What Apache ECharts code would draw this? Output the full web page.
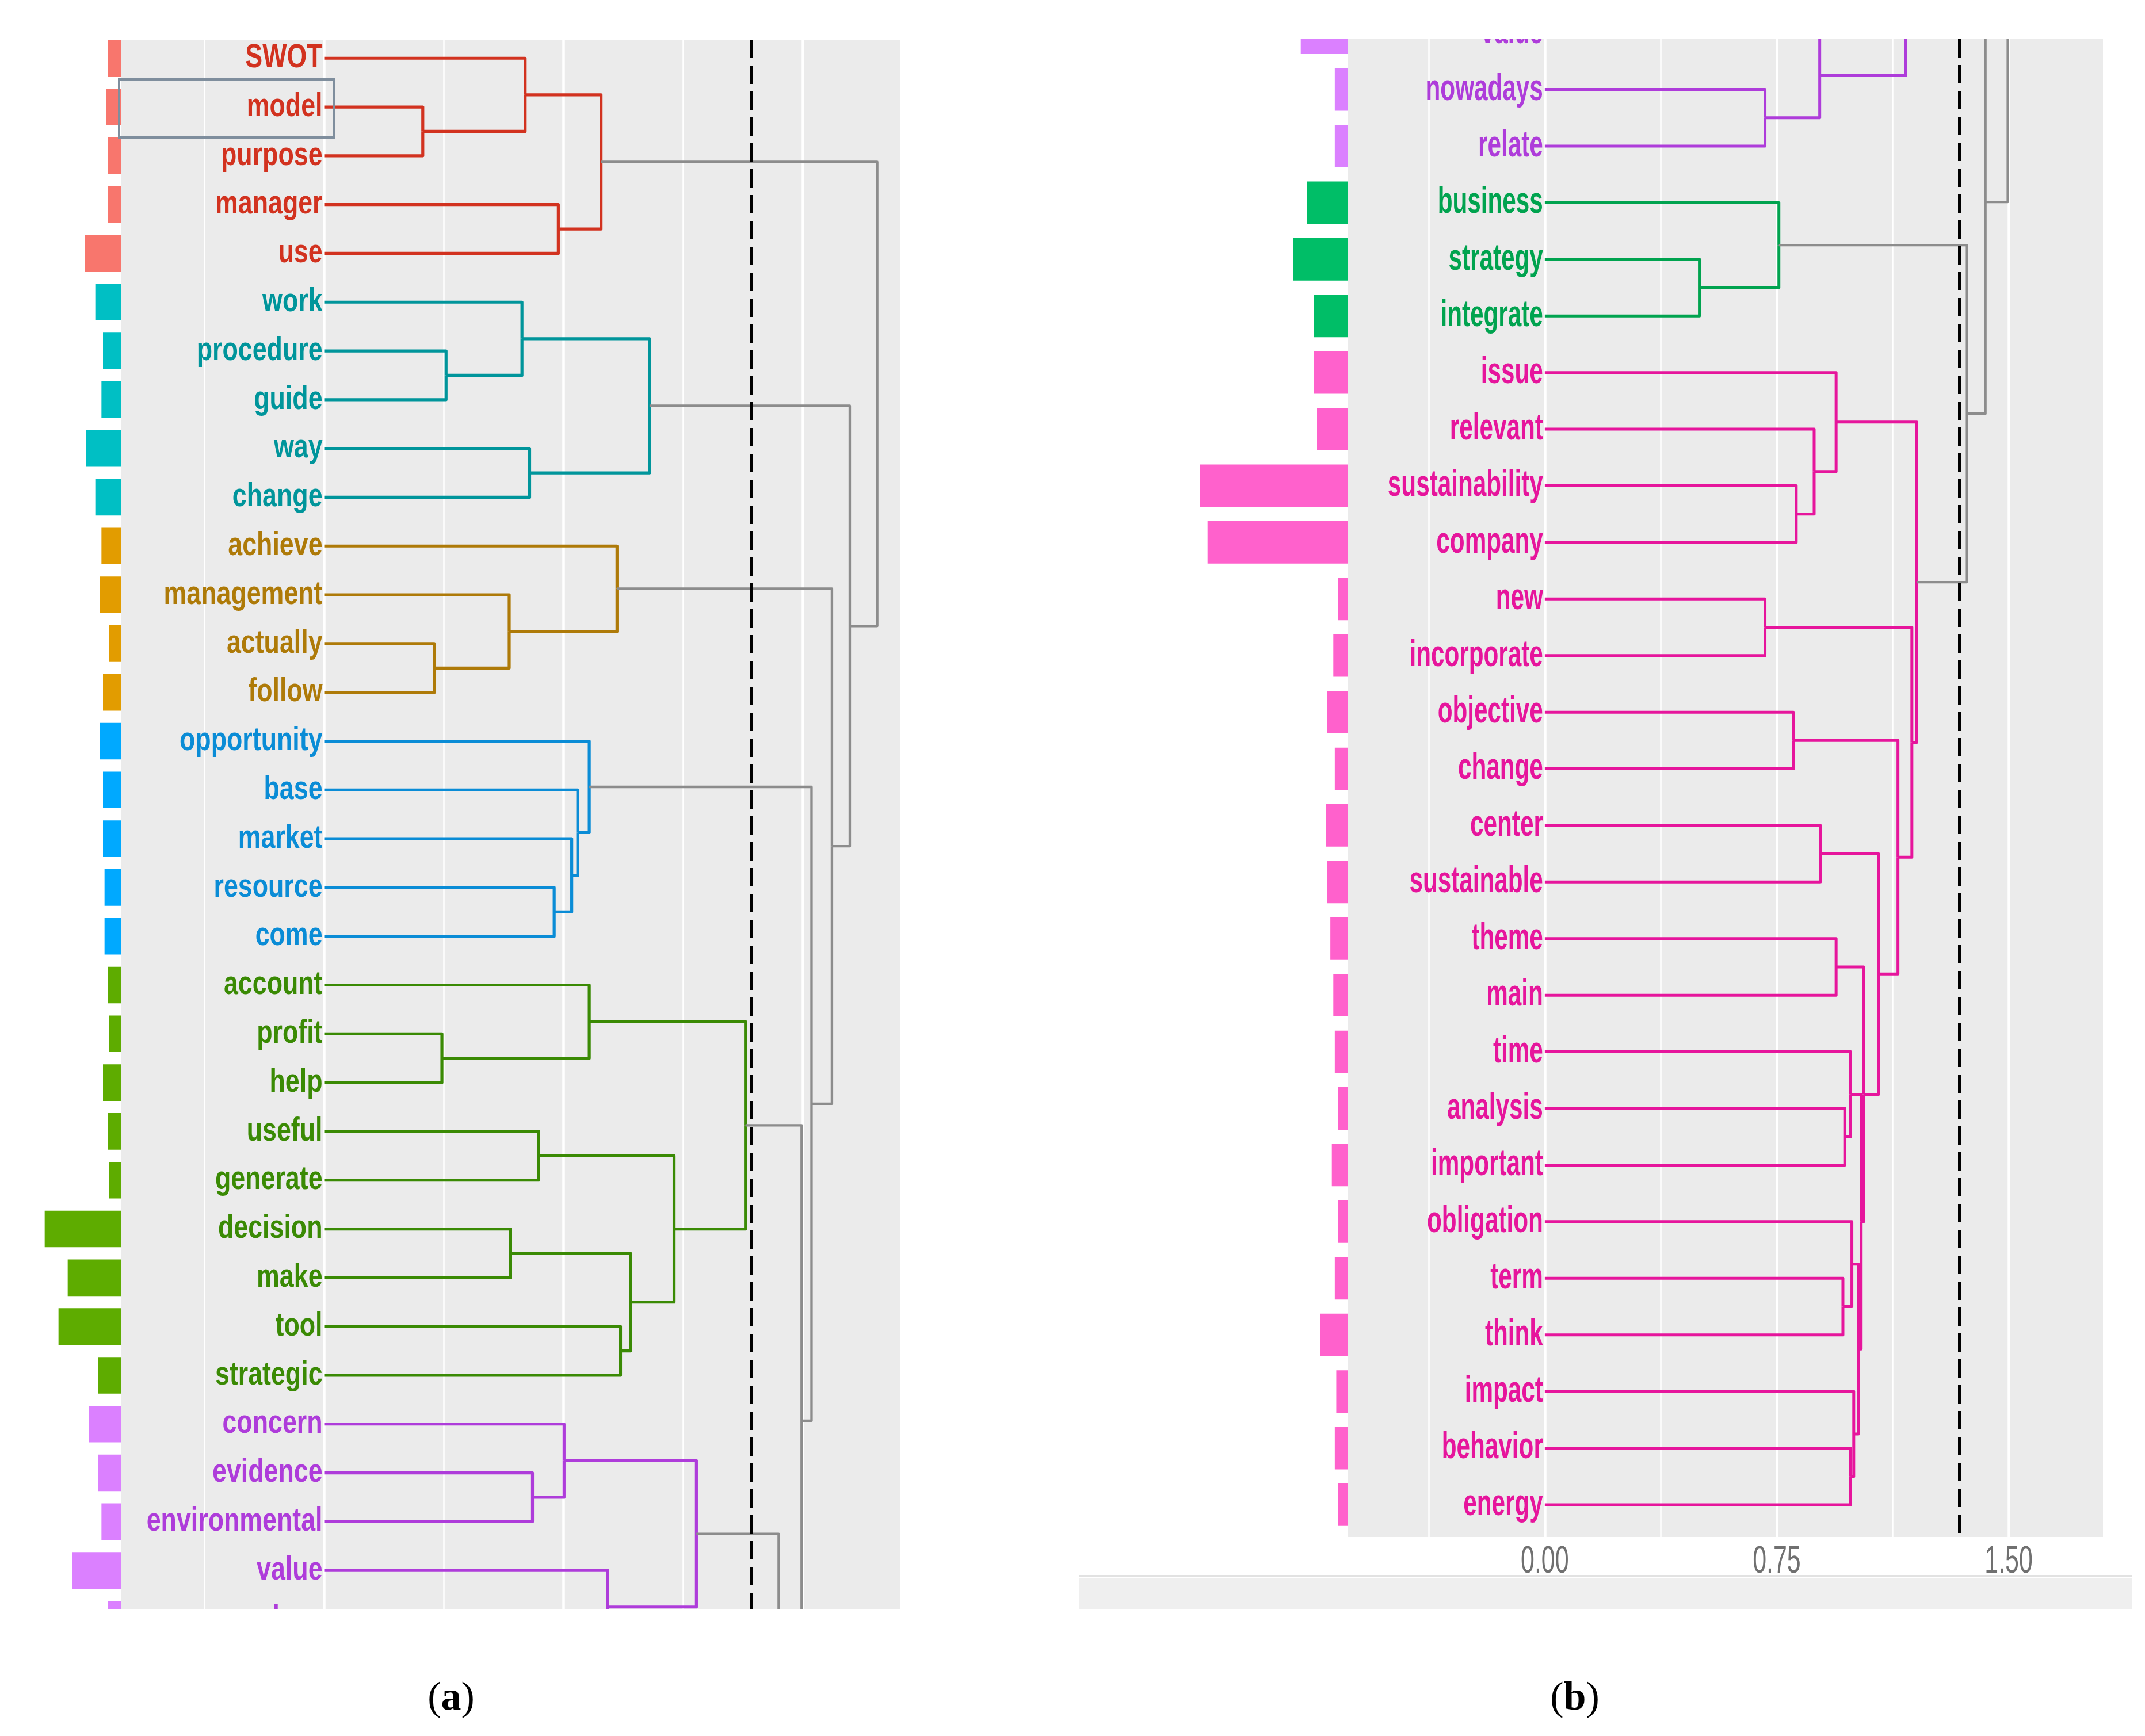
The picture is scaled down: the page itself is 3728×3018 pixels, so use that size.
<!DOCTYPE html>
<html><head><meta charset="utf-8">
<script src="https://cdn.jsdelivr.net/npm/echarts@6/dist/echarts.min.js"></script>
<style>html,body{margin:0;padding:0;background:#fff}#c{width:3728px;height:3018px}</style>
</head><body><div id="c"></div>
<script>
// ---------------- data ----------------
const words = ['SWOT','model','purpose','manager','use','work','procedure','guide','way','change',
  'achieve','management','actually','follow','opportunity','base','market','resource','come','account',
  'profit','help','useful','generate','decision','make','tool','strategic','concern','evidence',
  'environmental','value','nowadays','relate','business','strategy','integrate','issue','relevant','sustainability',
  'company','new','incorporate','objective','change','center','sustainable','theme','main','time',
  'analysis','important','obligation','term','think','impact','behavior','energy'];
const frequency = [9,10,9,9,24,17,12,13,23,17,
  13,14,8,12,14,12,12,11,11,9,
  8,12,9,8,50,35,41,15,21,15,
  13,32,9,9,28,37,23,23,21,100,
  95,7,10,14,9,15,14,12,10,9,
  7,11,7,9,19,8,9,7];
// hclust-style merge table: negative = leaf (1-based), positive = earlier merge (1-based)
const mergeLeft  = [-2,-1,-4,2,-7,-6,-9,6,-13,-12,-11,-18,-17,-16,-15,-21,-20,-23,-25,-27,19,18,17,-30,-29,-33,-32,25,-36,-35,
  -40,-39,-38,-42,-44,-46,-48,-51,-50,-54,-53,-57,-56,41,39,37,36,35,34,33,30,28,23,15,11,8,4];
const mergeRight = [-3,1,-5,3,-8,5,-10,7,-14,9,10,-19,12,13,14,-22,16,-24,-26,-28,20,21,22,-31,24,-34,26,27,-37,29,
  -41,31,32,-43,-45,-47,-49,-52,38,-55,40,-58,42,43,44,45,46,47,48,49,50,51,52,53,54,55,56];
const mergeHeight = [0.309,0.630,0.734,0.868,0.382,0.620,0.644,1.020,0.345,0.580,0.918,0.721,0.776,0.795,0.831,0.369,0.831,0.672,0.584,0.929,0.960,1.097,1.321,0.653,0.752,0.712,0.889,1.167,0.500,0.757,
  0.813,0.871,0.942,0.712,0.804,0.891,0.942,0.970,0.989,0.964,0.993,0.989,0.999,1.014,1.023,1.031,1.079,1.142,1.187,1.203,1.365,1.425,1.497,1.528,1.592,1.648,1.734];
const CUT_HEIGHT = 1.34;
const branchColors = ['#D2321F','#00959B','#AE7A08','#0A8CD6','#3A8A04','#AE3CDA','#00A34F','#E6159C'];
const barColors    = ['#F8766D','#00BFC4','#E29C00','#00A9FF','#5EAC00','#DB80FF','#00BE67','#FF61CC'];
const GRAY = '#8C8C8C';
const majorTicks = [0, 0.75, 1.5];
const minorTicks = [-0.375, 0.375, 1.125];
const tickLabels = ['0.00', '0.75', '1.50'];
const X_MIN = -0.636, X_MAX = 1.805;

// ---------------- tree building ----------------
const nodes = [];
function ref(r) { return r < 0 ? { h: 0, y: -r - 1, leaf: -r - 1 } : nodes[r - 1]; }
for (let k = 0; k < mergeHeight.length; k++) {
  const a = ref(mergeLeft[k]), b = ref(mergeRight[k]);
  nodes.push({ h: mergeHeight[k], y: (a.y + b.y) / 2, a, b, cluster: -1 });
}
const root = nodes[nodes.length - 1];
const leafCluster = new Array(words.length).fill(0);
let clusterCounter = 0;
function paint(node, cid) {
  node.cluster = cid;
  if (node.leaf !== undefined) { leafCluster[node.leaf] = cid; return; }
  paint(node.a, cid); paint(node.b, cid);
}
function findClusters(node) {
  if (node.leaf !== undefined || node.h < CUT_HEIGHT) { paint(node, clusterCounter++); return; }
  findClusters(node.a); findClusters(node.b);
}
findClusters(root);
const segments = [];
nodes.forEach(p => {
  [p.a, p.b].forEach(c => {
    segments.push([c.h, c.y, p.h, c.y, p.h, p.y, p.cluster]);
  });
});
const leafData = words.map((w, i) => [0, i, leafCluster[i]]);
const barData = frequency.map((f, i) => [f, i, leafCluster[i]]);
const tickData = majorTicks.map((v, i) => [v, i]);

// ---------------- chart ----------------
const FONT = '"Liberation Sans",Arial,"DejaVu Sans",sans-serif';
const panels = [
  { left: 211, top: 69, width: 1353, height: 2729, yMin: -0.38, yMax: 31.8, barW: 200, barMax: 75, fs: 57, sx: 0.785, lw: 5.2, labels: false },
  { left: 2343, top: 68, width: 1312, height: 2604, yMin: 31.11, yMax: 57.57, barW: 270, barMax: 105, fs: 65, sx: 0.65, lw: 5.0, labels: true }
];
const grid = [], xAxis = [], yAxis = [], series = [];
panels.forEach((P, pi) => {
  const gD = grid.length;
  grid.push({ left: P.left, top: P.top, width: P.width, height: P.height, show: true, backgroundColor: '#EBEBEB', borderWidth: 0 });
  grid.push({ left: P.left - P.barW, top: P.top, width: P.barW, height: P.height, show: false });
  const xMaj = xAxis.length;
  xAxis.push({ type: 'value', gridIndex: gD, min: X_MIN, max: X_MAX, position: 'bottom',
    axisLine: { show: false }, axisTick: { show: false, customValues: majorTicks },
    axisLabel: { show: false, customValues: majorTicks },
    splitLine: { show: true, lineStyle: { color: '#FFFFFF', width: 4.5 } } });
  xAxis.push({ type: 'value', gridIndex: gD, min: X_MIN, max: X_MAX, position: 'top',
    axisLine: { show: false }, axisTick: { show: false, customValues: minorTicks }, axisLabel: { show: false },
    splitLine: { show: true, lineStyle: { color: '#FFFFFF', width: 2.5 } } });
  const xBar = xAxis.length;
  xAxis.push({ type: 'value', gridIndex: gD + 1, min: 0, max: P.barMax, inverse: true, show: false });
  const yD = yAxis.length;
  yAxis.push({ type: 'value', gridIndex: gD, min: P.yMin, max: P.yMax, inverse: true, show: false });
  yAxis.push({ type: 'value', gridIndex: gD + 1, min: P.yMin, max: P.yMax, inverse: true, show: false });

  series.push({
    type: 'custom', xAxisIndex: xMaj, yAxisIndex: yD, clip: true, silent: true, z: 3,
    data: segments,
    renderItem: (params, api) => {
      const pts = [[api.value(0), api.value(1)], [api.value(2), api.value(3)], [api.value(4), api.value(5)]].map(p => api.coord(p));
      const c = api.value(6);
      return { type: 'polyline', shape: { points: pts },
        style: { stroke: c >= 0 ? branchColors[c] : GRAY, lineWidth: c >= 0 ? P.lw : P.lw - 0.9, fill: null, lineJoin: 'round' } };
    },
    markLine: { silent: true, symbol: 'none', label: { show: false }, z: 5,
      lineStyle: { color: '#000000', type: [32, 13], width: 5 },
      data: [{ xAxis: CUT_HEIGHT }] }
  });
  series.push({
    type: 'custom', xAxisIndex: xMaj, yAxisIndex: yD, clip: true, silent: true, z: 4,
    data: leafData,
    renderItem: (params, api) => {
      const p = api.coord([api.value(0), api.value(1)]);
      const c = api.value(2);
      return { type: 'text', x: p[0] - 3, y: p[1], scaleX: P.sx,
        style: { text: words[api.value(1)], fill: branchColors[c], font: 'bold ' + P.fs + 'px ' + FONT,
          align: 'right', verticalAlign: 'middle' } };
    }
  });
  series.push({
    type: 'custom', xAxisIndex: xBar, yAxisIndex: yD + 1, clip: true, silent: true,
    data: barData,
    renderItem: (params, api) => {
      const i = api.value(1);
      const p0 = api.coord([0, i - 0.375]);
      const p1 = api.coord([api.value(0), i + 0.375]);
      return { type: 'rect',
        shape: { x: Math.min(p0[0], p1[0]), y: Math.min(p0[1], p1[1]), width: Math.abs(p1[0] - p0[0]), height: Math.abs(p1[1] - p0[1]) },
        style: { fill: barColors[api.value(2)] } };
    }
  });
  if (P.labels) {
    series.push({
      type: 'custom', xAxisIndex: xMaj, yAxisIndex: yD, clip: false, silent: true, z: 4,
      data: tickData,
      renderItem: (params, api) => {
        const p = api.coord([api.value(0), P.yMax]);
        return { type: 'text', x: p[0], y: p[1] + 44, scaleX: P.sx,
          style: { text: tickLabels[api.value(1)], fill: '#707070', font: '66px ' + FONT,
            align: 'center', verticalAlign: 'middle' } };
      }
    });
  }
});

const chart = echarts.init(document.getElementById('c'));
chart.setOption({
  animation: false,
  backgroundColor: '#FFFFFF',
  grid, xAxis, yAxis, series,
  graphic: [
    { type: 'rect', shape: { x: 207, y: 138, width: 373, height: 101 }, style: { fill: 'none', stroke: '#7F8E9D', lineWidth: 4 }, z: 10 },
    { type: 'rect', shape: { x: 1876, y: 2743, width: 1830, height: 55 }, style: { fill: '#EFEFEF' }, z: 0 },
    { type: 'rect', shape: { x: 1876, y: 2738, width: 1830, height: 4 }, style: { fill: '#E2E2E2' }, z: 0 },
    { type: 'text', x: 784, y: 2954, z: 10,
      style: { text: '{p|(}{b|a}{p|)}', align: 'center', verticalAlign: 'middle',
        rich: { p: { fontFamily: '"Liberation Serif","DejaVu Serif",serif', fontSize: 70, fill: '#000' },
                b: { fontFamily: '"Liberation Serif","DejaVu Serif",serif', fontSize: 70, fontWeight: 'bold', fill: '#000' } } } },
    { type: 'text', x: 2737, y: 2954, z: 10,
      style: { text: '{p|(}{b|b}{p|)}', align: 'center', verticalAlign: 'middle',
        rich: { p: { fontFamily: '"Liberation Serif","DejaVu Serif",serif', fontSize: 70, fill: '#000' },
                b: { fontFamily: '"Liberation Serif","DejaVu Serif",serif', fontSize: 70, fontWeight: 'bold', fill: '#000' } } } }
  ]
});
</script></body></html>
